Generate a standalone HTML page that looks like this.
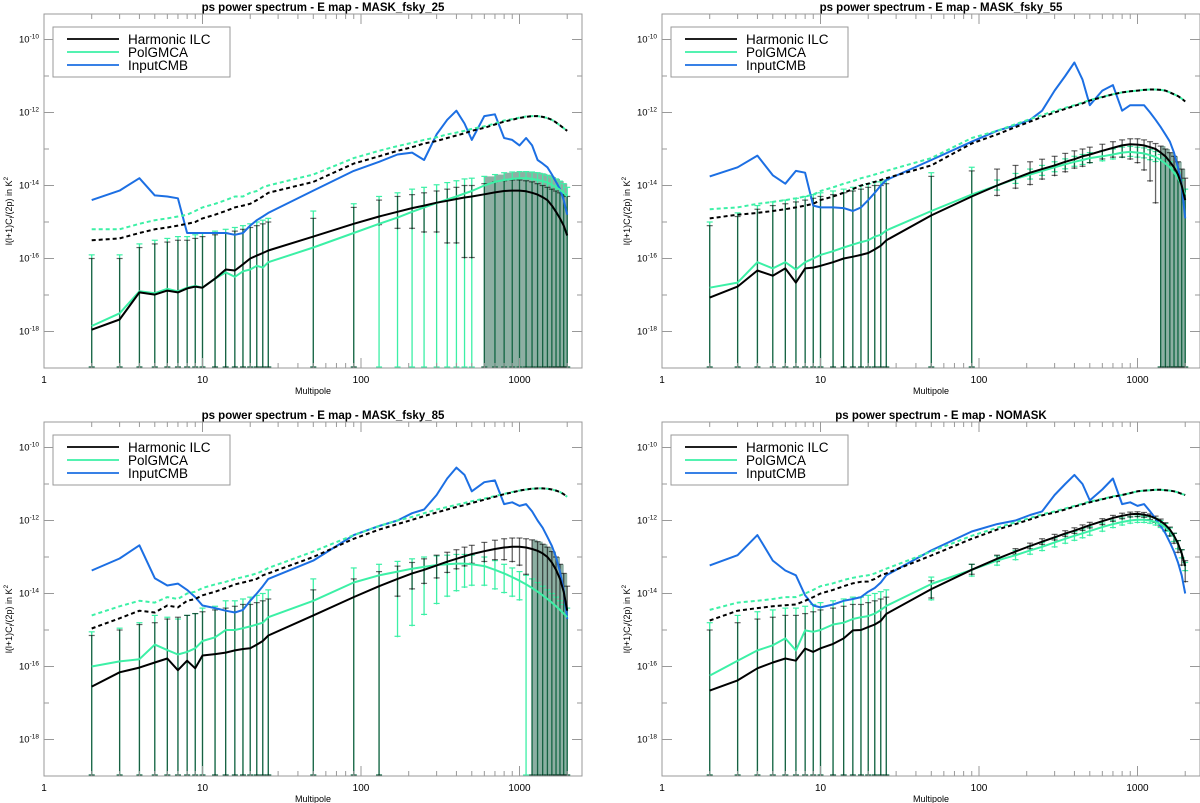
<!DOCTYPE html>
<html><head><meta charset="utf-8"><style>
html,body{margin:0;padding:0;background:#fff;}
svg{display:block;font-family:"Liberation Sans",Arial,sans-serif;}
</style></head><body>
<svg id="chart" width="1200" height="803" viewBox="0 0 1200 803" xmlns="http://www.w3.org/2000/svg"></svg>
<script>
const ells = [2,3,4,5,6,7,8,9,10,12,14,16,18,20,22,24,26,50,90,130,170,210,250,300,350,400,450,500,600,700,800,900,1000,1100,1200,1300,1400,1500,1600,1700,1800,1900,2000];
const panelTitles = ["ps power spectrum - E map - MASK_fsky_25","ps power spectrum - E map - MASK_fsky_55","ps power spectrum - E map - MASK_fsky_85","ps power spectrum - E map - NOMASK"];
const xTickValues = [1,10,100,1000];
const xTickLabels = ["1","10","100","1000"];
const yTickExps = [-10,-12,-14,-16,-18];
const legendLabels = ["Harmonic ILC","PolGMCA","InputCMB"];

// log10 values, panel order: TL, TR, BL, BR
const ilc0 = [-17.95,-17.67,-16.93,-16.99,-16.88,-16.93,-16.82,-16.77,-16.8,-16.55,-16.3,-16.33,-16.16,-16.0,-15.92,-15.85,-15.78,-15.4,-15.05,-14.85,-14.72,-14.62,-14.55,-14.47,-14.42,-14.37,-14.33,-14.3,-14.24,-14.19,-14.15,-14.14,-14.14,-14.16,-14.2,-14.25,-14.32,-14.4,-14.55,-14.72,-14.9,-15.1,-15.37];
const gmca0 = [-17.85,-17.5,-16.9,-16.95,-16.83,-16.9,-16.8,-16.75,-16.8,-16.55,-16.38,-16.5,-16.35,-16.3,-16.2,-16.25,-16.1,-15.7,-15.3,-15.05,-14.88,-14.72,-14.6,-14.48,-14.38,-14.3,-14.22,-14.15,-14.0,-13.9,-13.85,-13.82,-13.8,-13.8,-13.82,-13.85,-13.88,-13.92,-13.98,-14.05,-14.12,-14.2,-14.3];
const ilcD0 = [-15.5,-15.45,-15.3,-15.2,-15.15,-15.1,-15.05,-15.0,-14.9,-14.8,-14.7,-14.6,-14.55,-14.5,-14.4,-14.3,-14.2,-13.9,-13.4,-13.2,-13.05,-12.95,-12.85,-12.78,-12.7,-12.63,-12.57,-12.5,-12.42,-12.33,-12.25,-12.2,-12.15,-12.12,-12.1,-12.1,-12.12,-12.15,-12.2,-12.27,-12.35,-12.43,-12.5];
const gmcaD0 = [-15.2,-15.2,-15.05,-14.95,-14.9,-14.85,-14.8,-14.7,-14.6,-14.5,-14.4,-14.3,-14.3,-14.2,-14.15,-14.05,-14.0,-13.7,-13.25,-13.05,-12.92,-12.83,-12.75,-12.68,-12.6,-12.55,-12.5,-12.45,-12.38,-12.3,-12.22,-12.18,-12.14,-12.11,-12.1,-12.1,-12.12,-12.15,-12.2,-12.27,-12.35,-12.43,-12.5];
const cmb0 = [-14.4,-14.14,-13.8,-14.27,-14.3,-14.35,-15.3,-15.3,-15.3,-15.3,-15.3,-15.35,-15.3,-15.1,-14.95,-14.85,-14.75,-14.14,-13.6,-13.35,-13.15,-13.1,-13.3,-12.6,-12.2,-11.95,-12.3,-12.75,-12.1,-12.05,-12.7,-12.75,-12.9,-12.7,-12.9,-13.3,-13.4,-13.5,-13.7,-13.9,-14.1,-14.4,-14.8];
const ilcHi0 = [-16.0,-16.0,-15.7,-15.6,-15.55,-15.5,-15.5,-15.45,-15.4,-15.35,-15.3,-15.25,-15.2,-15.15,-15.1,-15.05,-15.0,-14.9,-14.6,-14.4,-14.3,-14.25,-14.2,-14.15,-14.1,-14.05,-14.0,-14.0,-13.95,-13.9,-13.87,-13.85,-13.85,-13.87,-13.9,-13.95,-14.0,-14.05,-14.1,-14.15,-14.2,-14.25,-14.3];
const ilcLo0 = [-20,-20,-20,-20,-20,-20,-20,-20,-20,-20,-20,-20,-20,-20,-20,-20,-20,-20,-20,-15.1,-15.2,-15.2,-15.3,-15.3,-15.6,-15.6,-16.0,-16.0,-20,-20,-20,-20,-20,-20,-20,-20,-20,-20,-20,-20,-20,-20,-20];
const gmcaHi0 = [-15.9,-15.9,-15.6,-15.5,-15.45,-15.4,-15.4,-15.35,-15.3,-15.25,-15.2,-15.15,-15.1,-15.05,-15.0,-14.95,-14.9,-14.7,-14.5,-14.3,-14.2,-14.1,-14.05,-13.98,-13.92,-13.87,-13.82,-13.8,-13.75,-13.7,-13.65,-13.63,-13.62,-13.62,-13.63,-13.65,-13.68,-13.72,-13.77,-13.82,-13.88,-13.95,-14.05];
const gmcaLo0 = [-20,-20,-20,-20,-20,-20,-20,-20,-20,-20,-20,-20,-20,-20,-20,-20,-20,-20,-20,-20,-20,-20,-20,-20,-20,-20,-20,-20,-20,-20,-20,-20,-20,-20,-20,-20,-20,-20,-20,-20,-20,-20,-20];

const ilc1 = [-17.07,-16.77,-16.33,-16.47,-16.27,-16.66,-16.27,-16.25,-16.2,-16.1,-16.0,-15.95,-15.9,-15.85,-15.75,-15.65,-15.5,-14.82,-14.3,-14.0,-13.8,-13.65,-13.55,-13.45,-13.35,-13.28,-13.2,-13.15,-13.05,-12.97,-12.9,-12.87,-12.88,-12.9,-12.95,-13.0,-13.1,-13.2,-13.35,-13.5,-13.7,-14.0,-14.4];
const gmca1 = [-16.8,-16.66,-16.1,-16.27,-16.1,-16.3,-16.1,-16.0,-15.9,-15.8,-15.7,-15.62,-15.55,-15.5,-15.4,-15.35,-15.23,-14.7,-14.25,-14.0,-13.82,-13.7,-13.6,-13.5,-13.42,-13.35,-13.3,-13.25,-13.2,-13.15,-13.1,-13.08,-13.1,-13.12,-13.17,-13.22,-13.3,-13.4,-13.5,-13.65,-13.8,-14.0,-14.25];
const ilcD1 = [-14.9,-14.8,-14.75,-14.7,-14.65,-14.6,-14.55,-14.5,-14.4,-14.3,-14.2,-14.1,-14.0,-13.95,-13.9,-13.85,-13.8,-13.45,-12.85,-12.6,-12.4,-12.25,-12.12,-12.0,-11.9,-11.82,-11.75,-11.67,-11.58,-11.5,-11.45,-11.42,-11.4,-11.38,-11.37,-11.37,-11.38,-11.4,-11.45,-11.5,-11.55,-11.62,-11.7];
const gmcaD1 = [-14.65,-14.6,-14.5,-14.45,-14.4,-14.35,-14.3,-14.25,-14.15,-14.05,-13.95,-13.88,-13.8,-13.75,-13.7,-13.65,-13.6,-13.25,-12.7,-12.5,-12.32,-12.18,-12.07,-11.96,-11.87,-11.8,-11.73,-11.66,-11.57,-11.5,-11.45,-11.42,-11.4,-11.38,-11.37,-11.37,-11.38,-11.4,-11.45,-11.5,-11.55,-11.62,-11.7];
const cmb1 = [-13.75,-13.5,-13.18,-13.72,-13.95,-13.6,-13.65,-14.55,-14.6,-14.6,-14.62,-14.7,-14.6,-14.4,-14.2,-14.0,-13.85,-13.3,-12.8,-12.5,-12.35,-12.2,-11.95,-11.4,-11.0,-10.63,-11.1,-11.8,-11.4,-11.25,-11.95,-11.8,-11.8,-11.8,-12.0,-12.2,-12.4,-12.6,-12.8,-13.1,-13.5,-14.0,-14.9];
const ilcHi1 = [-15.1,-14.85,-14.65,-14.55,-14.5,-14.45,-14.4,-14.35,-14.3,-14.25,-14.2,-14.15,-14.1,-14.05,-14.0,-14.0,-13.95,-13.75,-13.6,-13.55,-13.45,-13.35,-13.28,-13.2,-13.12,-13.05,-13.0,-12.95,-12.87,-12.8,-12.75,-12.72,-12.72,-12.75,-12.8,-12.85,-12.92,-13.0,-13.1,-13.2,-13.35,-13.55,-13.8];
const ilcLo1 = [-20,-20,-20,-20,-20,-20,-20,-20,-20,-20,-20,-20,-20,-20,-20,-20,-20,-20,-20,-14.3,-14.1,-14.0,-13.85,-13.75,-13.65,-13.55,-13.5,-13.4,-13.3,-13.25,-13.25,-13.3,-13.4,-13.6,-13.9,-14.5,-20,-20,-20,-20,-20,-20,-20];
const gmcaHi1 = [-15.0,-14.75,-14.55,-14.45,-14.4,-14.35,-14.3,-14.25,-14.2,-14.15,-14.1,-14.05,-14.0,-13.95,-13.9,-13.9,-13.85,-13.65,-13.5,-13.85,-13.67,-13.55,-13.45,-13.35,-13.27,-13.2,-13.15,-13.1,-13.05,-13.0,-12.95,-12.93,-12.95,-12.97,-13.02,-13.07,-13.15,-13.25,-13.35,-13.5,-13.65,-13.85,-14.1];
const gmcaLo1 = [-20,-20,-20,-20,-20,-20,-20,-20,-20,-20,-20,-20,-20,-20,-20,-20,-20,-20,-20,-14.15,-13.97,-13.85,-13.75,-13.65,-13.57,-13.5,-13.45,-13.4,-13.35,-13.3,-13.25,-13.23,-13.25,-13.27,-13.32,-13.37,-20,-20,-20,-20,-20,-20,-20];

const ilc2 = [-16.55,-16.16,-16.03,-15.89,-15.78,-16.1,-15.84,-16.05,-15.7,-15.66,-15.62,-15.56,-15.52,-15.5,-15.4,-15.3,-15.15,-14.6,-14.1,-13.8,-13.6,-13.45,-13.35,-13.23,-13.13,-13.05,-12.98,-12.92,-12.84,-12.78,-12.74,-12.72,-12.72,-12.74,-12.78,-12.83,-12.9,-13.0,-13.15,-13.35,-13.6,-13.95,-14.47];
const gmca2 = [-16.0,-15.86,-15.8,-15.4,-15.55,-15.67,-15.6,-15.5,-15.3,-15.2,-15.0,-15.0,-14.95,-14.9,-14.85,-14.8,-14.65,-14.2,-13.7,-13.5,-13.4,-13.32,-13.27,-13.22,-13.2,-13.18,-13.18,-13.2,-13.25,-13.35,-13.45,-13.55,-13.65,-13.75,-13.85,-13.95,-14.05,-14.15,-14.25,-14.35,-14.45,-14.55,-14.65];
const ilcD2 = [-14.96,-14.68,-14.47,-14.52,-14.33,-14.38,-14.2,-14.15,-14.05,-13.95,-13.85,-13.75,-13.7,-13.65,-13.6,-13.5,-13.45,-13.0,-12.5,-12.25,-12.1,-11.98,-11.88,-11.78,-11.7,-11.63,-11.58,-11.52,-11.43,-11.35,-11.28,-11.23,-11.18,-11.15,-11.13,-11.12,-11.12,-11.13,-11.15,-11.18,-11.22,-11.28,-11.35];
const gmcaD2 = [-14.6,-14.35,-14.2,-14.25,-14.1,-14.15,-14.0,-13.95,-13.85,-13.75,-13.68,-13.6,-13.55,-13.5,-13.45,-13.38,-13.3,-12.85,-12.4,-12.15,-12.0,-11.9,-11.8,-11.7,-11.63,-11.57,-11.52,-11.47,-11.4,-11.33,-11.27,-11.22,-11.18,-11.15,-11.13,-11.12,-11.12,-11.13,-11.15,-11.18,-11.22,-11.28,-11.35];
const cmb2 = [-13.37,-13.04,-12.68,-13.58,-13.78,-13.73,-13.9,-14.1,-14.33,-14.4,-14.47,-14.52,-14.45,-14.2,-14.0,-13.8,-13.6,-13.1,-12.4,-12.15,-12.0,-11.8,-11.7,-11.3,-10.85,-10.55,-10.75,-11.2,-10.95,-10.9,-11.55,-11.5,-11.6,-11.55,-11.75,-12.0,-12.2,-12.45,-12.7,-13.0,-13.4,-13.9,-14.7];
const ilcHi2 = [-15.15,-15.0,-14.85,-14.8,-14.7,-14.65,-14.6,-14.55,-14.5,-14.45,-14.4,-14.35,-14.3,-14.3,-14.25,-14.2,-14.15,-13.9,-13.6,-13.4,-13.25,-13.15,-13.05,-12.95,-12.87,-12.8,-12.73,-12.68,-12.6,-12.54,-12.5,-12.48,-12.48,-12.5,-12.53,-12.58,-12.65,-12.73,-12.85,-13.0,-13.2,-13.45,-13.8];
const ilcLo2 = [-20,-20,-20,-20,-20,-20,-20,-20,-20,-20,-20,-20,-20,-20,-20,-20,-20,-20,-20,-20,-14.1,-13.9,-13.75,-13.6,-13.45,-13.35,-13.27,-13.2,-13.15,-13.1,-13.1,-13.15,-13.25,-13.5,-20,-20,-20,-20,-20,-20,-20,-20,-20];
const gmcaHi2 = [-15.05,-14.95,-14.8,-14.6,-14.65,-14.7,-14.6,-14.55,-14.4,-14.35,-14.2,-14.2,-14.15,-14.1,-14.05,-14.0,-13.9,-13.6,-13.3,-13.2,-13.12,-13.05,-13.0,-12.97,-12.95,-12.93,-12.93,-12.95,-13.0,-13.1,-13.2,-13.3,-13.4,-13.5,-13.6,-13.7,-13.8,-13.9,-14.0,-14.1,-14.2,-14.3,-14.4];
const gmcaLo2 = [-20,-20,-20,-20,-20,-20,-20,-20,-20,-20,-20,-20,-20,-20,-20,-20,-20,-20,-20,-20,-15.2,-14.9,-14.6,-14.3,-14.1,-13.95,-13.85,-13.8,-13.8,-13.9,-14.0,-14.1,-14.2,-20,-20,-20,-20,-20,-20,-20,-20,-20,-20];

const ilc3 = [-16.66,-16.38,-16.05,-15.89,-15.78,-15.84,-15.51,-15.6,-15.5,-15.38,-15.23,-15.01,-15.0,-14.92,-14.85,-14.75,-14.56,-13.88,-13.35,-13.05,-12.85,-12.7,-12.58,-12.46,-12.36,-12.28,-12.2,-12.13,-12.02,-11.93,-11.87,-11.83,-11.82,-11.84,-11.88,-11.94,-12.02,-12.12,-12.25,-12.42,-12.63,-12.9,-13.25];
const gmca3 = [-16.25,-15.84,-15.56,-15.42,-15.23,-15.56,-15.01,-15.05,-15.0,-14.85,-14.8,-14.7,-14.65,-14.62,-14.55,-14.45,-14.34,-13.74,-13.35,-13.1,-12.95,-12.82,-12.72,-12.6,-12.5,-12.42,-12.35,-12.29,-12.18,-12.1,-12.04,-12.0,-11.98,-11.98,-12.0,-12.04,-12.1,-12.18,-12.3,-12.45,-12.65,-12.9,-13.25];
const ilcD3 = [-14.74,-14.47,-14.4,-14.35,-14.32,-14.3,-14.2,-14.1,-14.0,-13.9,-13.8,-13.72,-13.68,-13.67,-13.6,-13.5,-13.45,-12.96,-12.5,-12.25,-12.1,-11.97,-11.86,-11.78,-11.7,-11.62,-11.56,-11.5,-11.42,-11.35,-11.3,-11.25,-11.2,-11.18,-11.17,-11.16,-11.16,-11.17,-11.18,-11.2,-11.23,-11.27,-11.3];
const gmcaD3 = [-14.45,-14.25,-14.2,-14.15,-14.1,-14.1,-14.0,-13.9,-13.8,-13.72,-13.63,-13.57,-13.53,-13.5,-13.45,-13.38,-13.32,-12.85,-12.42,-12.2,-12.05,-11.93,-11.83,-11.75,-11.67,-11.6,-11.54,-11.48,-11.41,-11.34,-11.3,-11.25,-11.2,-11.18,-11.17,-11.16,-11.16,-11.17,-11.18,-11.2,-11.23,-11.27,-11.3];
const cmb3 = [-13.23,-12.95,-12.4,-13.1,-13.37,-13.5,-14.05,-14.33,-14.38,-14.3,-14.2,-14.15,-14.1,-13.95,-13.85,-13.7,-13.5,-12.82,-12.3,-12.1,-12.0,-11.85,-11.75,-11.3,-11.0,-10.75,-11.0,-11.45,-11.15,-10.85,-11.55,-11.5,-11.6,-11.55,-11.75,-11.95,-12.15,-12.35,-12.6,-12.85,-13.15,-13.5,-14.0];
const ilcHi3 = [-15.0,-14.8,-14.7,-14.65,-14.6,-14.6,-14.55,-14.5,-14.45,-14.4,-14.35,-14.3,-14.3,-14.25,-14.2,-14.15,-14.1,-13.65,-13.2,-12.95,-12.77,-12.62,-12.5,-12.38,-12.28,-12.2,-12.12,-12.05,-11.95,-11.86,-11.8,-11.77,-11.76,-11.78,-11.82,-11.88,-11.96,-12.06,-12.18,-12.35,-12.55,-12.8,-13.1];
const ilcLo3 = [-20,-20,-20,-20,-20,-20,-20,-20,-20,-20,-20,-20,-20,-20,-20,-20,-20,-14.15,-13.5,-13.15,-12.95,-12.8,-12.68,-12.56,-12.46,-12.38,-12.3,-12.23,-12.14,-12.05,-11.98,-11.93,-11.92,-11.94,-12.0,-12.08,-12.18,-12.3,-12.45,-12.65,-12.9,-13.25,-13.7];
const gmcaHi3 = [-14.8,-14.6,-14.5,-14.45,-14.4,-14.4,-14.35,-14.3,-14.25,-14.2,-14.15,-14.1,-14.1,-14.05,-14.0,-13.95,-13.9,-13.55,-13.2,-12.97,-12.82,-12.7,-12.6,-12.48,-12.38,-12.3,-12.23,-12.17,-12.07,-11.99,-11.93,-11.9,-11.88,-11.88,-11.9,-11.94,-12.0,-12.08,-12.2,-12.35,-12.55,-12.8,-13.15];
const gmcaLo3 = [-20,-20,-20,-20,-20,-20,-20,-20,-20,-20,-20,-20,-20,-20,-20,-20,-20,-14.2,-13.55,-13.25,-13.1,-12.95,-12.85,-12.75,-12.65,-12.57,-12.5,-12.43,-12.32,-12.22,-12.15,-12.1,-12.08,-12.08,-12.1,-12.15,-12.22,-12.32,-12.45,-12.6,-12.8,-13.05,-13.4];

const panels = [
 {ox:44, oy:14, ilc:ilc0, gmca:gmca0, ilcD:ilcD0, gmcaD:gmcaD0, cmb:cmb0, ilcHi:ilcHi0, ilcLo:ilcLo0, gmcaHi:gmcaHi0, gmcaLo:gmcaLo0},
 {ox:662, oy:14, ilc:ilc1, gmca:gmca1, ilcD:ilcD1, gmcaD:gmcaD1, cmb:cmb1, ilcHi:ilcHi1, ilcLo:ilcLo1, gmcaHi:gmcaHi1, gmcaLo:gmcaLo1},
 {ox:44, oy:422, ilc:ilc2, gmca:gmca2, ilcD:ilcD2, gmcaD:gmcaD2, cmb:cmb2, ilcHi:ilcHi2, ilcLo:ilcLo2, gmcaHi:gmcaHi2, gmcaLo:gmcaLo2},
 {ox:662, oy:422, ilc:ilc3, gmca:gmca3, ilcD:ilcD3, gmcaD:gmcaD3, cmb:cmb3, ilcHi:ilcHi3, ilcLo:ilcLo3, gmcaHi:gmcaHi3, gmcaLo:gmcaLo3}
];

const NS = "http://www.w3.org/2000/svg";
const svg = document.getElementById('chart');
const W = 538, H = 354, DEC_X = 158.5, DEC_Y = 36.5, YMIN = -19;
const GREEN = "#3cf0a6", BLUE = "#1c6fe3";
function mk(tag, attrs, parent){ const e=document.createElementNS(NS,tag); for(const k in attrs) e.setAttribute(k,attrs[k]); (parent||svg).appendChild(e); return e; }

panels.forEach((p, pi) => {
  const g = mk('g', {});
  
  
  const xs = v => p.ox + Math.log10(v) * DEC_X;
  const ys = lv => p.oy + H - (Math.max(lv, YMIN) - YMIN) * DEC_Y;
  const clipId = 'clip' + pi;
  const cp = mk('clipPath', {id: clipId}, g);
  mk('rect', {x:p.ox, y:p.oy, width:W, height:H}, cp);

  const t = mk('text', {x:p.ox + W/2 + 10, y:p.oy - 3, 'text-anchor':'middle', 'font-size':'11.5', 'font-weight':'bold', fill:'#000'}, g);
  t.textContent = panelTitles[pi];
  
  

  const eg = mk('g', {'clip-path':'url(#'+clipId+')'}, g);
  
  
  const n = ells.length;

  // dense high-multipole error-bar band (bars packed closely in the original)
  for(let i=0;i<n-1;i++){
    if(ells[i] >= 500 && p.ilcLo[i] <= -19 && p.ilcLo[i+1] <= -19){
      const x1 = xs(ells[i]), x2 = xs(ells[i+1]);
      const top = Math.min(ys(p.ilcHi[i]), ys(p.gmcaHi[i]));
      const r = mk('rect', {x:x1, y:top, width:x2-x1, height:p.oy+H-top, fill:'#2f6e58', 'fill-opacity':0.55}, eg);
      
      
    }
  }

  function bars(hiArr, loArr, color, op, name){
    for(let i=0;i<n;i++){
      if(hiArr[i]===undefined) continue;
      const x = xs(ells[i]), y1 = ys(hiArr[i]), y2 = ys(loArr[i]);
      const l = mk('line', {x1:x, x2:x, y1:y1, y2:y2, stroke:color, 'stroke-width':1.3, 'stroke-opacity':op}, eg);
      
      
      mk('line', {x1:x-3, x2:x+3, y1:y1, y2:y1, stroke:color, 'stroke-width':1.2, 'stroke-opacity':op}, eg);
      mk('line', {x1:x-3, x2:x+3, y1:y2-1, y2:y2-1, stroke:color, 'stroke-width':1.2, 'stroke-opacity':op}, eg);
    }
  }
  bars(p.gmcaHi, p.gmcaLo, GREEN, 1, 'polgmca-error-bar');
  bars(p.ilcHi, p.ilcLo, '#000', 0.6, 'ilc-error-bar');

  const lg = mk('g', {'clip-path':'url(#'+clipId+')', fill:'none'}, g);
  function line(arr, color, dash, name){
    let d = '';
    for(let i=0;i<Math.min(arr.length, n);i++) d += (i?'L':'M') + xs(ells[i]).toFixed(1) + ',' + ys(arr[i]).toFixed(1);
    const pa = mk('path', {d:d, stroke:color, 'stroke-width':2, 'stroke-linejoin':'round'}, lg);
    if(dash) pa.setAttribute('stroke-dasharray', '4,3');
    
    
  }
  line(p.cmb, BLUE, false, 'inputcmb-line');
  line(p.gmcaD, GREEN, true, 'polgmca-dashed-line');
  line(p.ilcD, '#000', true, 'ilc-dashed-line');
  line(p.gmca, GREEN, false, 'polgmca-line');
  line(p.ilc, '#000', false, 'ilc-line');

  const fr = mk('rect', {x:p.ox, y:p.oy, width:W, height:H, fill:'none', stroke:'#999', 'stroke-width':1}, g);
  
  
  for(let dec=0; dec<4; dec++){
    for(let m=1;m<10;m++){
      const v = m*Math.pow(10,dec); const x = xs(v);
      if(x > p.ox+W) break;
      const len = m===1 ? 10 : 5;
      mk('line', {x1:x,x2:x,y1:p.oy+H,y2:p.oy+H-len,stroke:'#999'}, g);
      mk('line', {x1:x,x2:x,y1:p.oy,y2:p.oy+len,stroke:'#999'}, g);
    }
  }
  xTickValues.forEach((v,i) => {
    const tx = mk('text', {x:xs(v), y:p.oy+H+15, 'text-anchor':'middle', 'font-size':'10', fill:'#000'}, g);
    tx.textContent = xTickLabels[i];
    
    
  });
  const xl = mk('text', {x:p.ox+W/2, y:p.oy+H+26, 'text-anchor':'middle', 'font-size':'9', fill:'#000'}, g);
  xl.textContent = 'Multipole';
  
  
  for(let e=-19; e<=-10; e++){
    const y = ys(e); const len = (e%2===0) ? 10 : 5;
    mk('line', {x1:p.ox,x2:p.ox+len,y1:y,y2:y,stroke:'#999'}, g);
    mk('line', {x1:p.ox+W,x2:p.ox+W-len,y1:y,y2:y,stroke:'#999'}, g);
  }
  yTickExps.forEach(e => {
    const ty = mk('text', {x:p.ox-5, y:ys(e)+3, 'text-anchor':'end', 'font-size':'9.5', fill:'#000'}, g);
    ty.textContent = '10';
    const sp = mk('tspan', {dy:'-4', 'font-size':'6.5'}, ty);
    sp.textContent = String(e);
    
    
  });
  const yt = mk('text', {x:0, y:0, 'text-anchor':'middle', 'font-size':'9', fill:'#000', transform:'translate('+(p.ox-32)+','+(p.oy+H/2+20)+') rotate(-90)'}, g);
  yt.textContent = 'l(l+1)C';
  const s1 = mk('tspan', {dy:'2', 'font-size':'6.5'}, yt); s1.textContent = 'l';
  const s2 = mk('tspan', {dy:'-2'}, yt); s2.textContent = '/(2p) in K';
  const s3 = mk('tspan', {dy:'-4', 'font-size':'6.5'}, yt); s3.textContent = '2';
  
  

  const lgd = mk('g', {}, g);
  
  
  mk('rect', {x:p.ox+9, y:p.oy+13, width:177, height:50, fill:'#fff', stroke:'#999', 'stroke-width':1}, lgd);
  const cols = ['#000', GREEN, BLUE];
  legendLabels.forEach((lab, i) => {
    const yy = p.oy + 25 + i*13;
    const en = mk('g', {}, lgd);
    
    
    mk('line', {x1:p.ox+23, x2:p.ox+75, y1:yy, y2:yy, stroke:cols[i], 'stroke-width':1.8}, en);
    const tt = mk('text', {x:p.ox+84, y:yy+5, 'font-size':'13.5', fill:'#000'}, en);
    tt.textContent = lab;
  });
});
</script>
</body></html>
